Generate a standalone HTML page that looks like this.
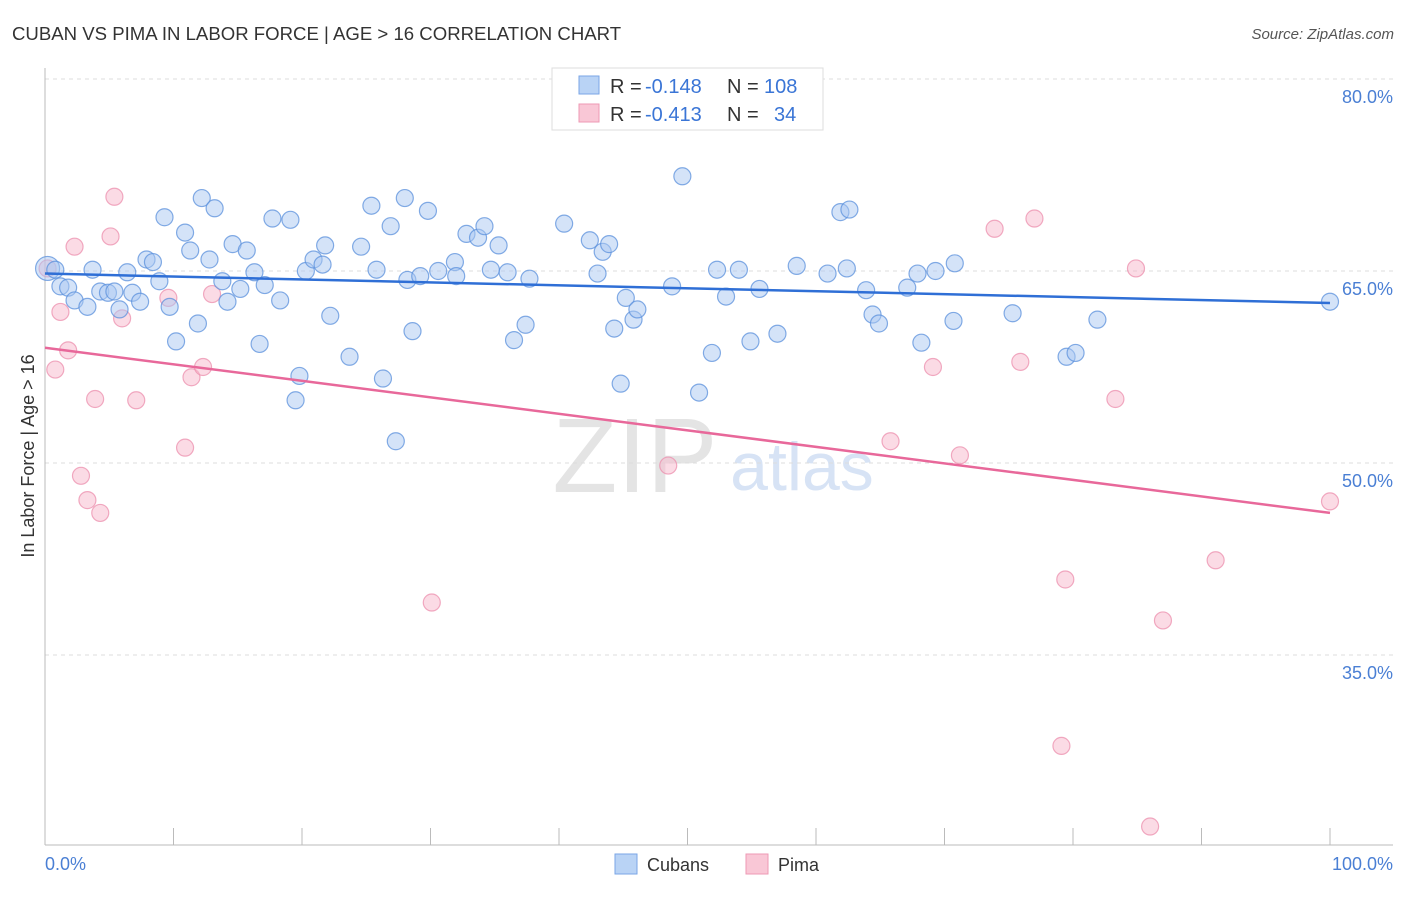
<!DOCTYPE html>
<html><head><meta charset="utf-8"><style>
body{margin:0;background:#fff;font-family:"Liberation Sans",sans-serif;}
svg text{font-family:"Liberation Sans",sans-serif;}
</style></head><body>
<svg id="chart" width="1406" height="892" viewBox="0 0 1406 892" xmlns="http://www.w3.org/2000/svg">
<text x="12" y="40" font-size="18.6" fill="#333">CUBAN VS PIMA IN LABOR FORCE | AGE &gt; 16 CORRELATION CHART</text>
<text x="1394" y="39" font-size="15" fill="#555" font-style="italic" text-anchor="end">Source: ZipAtlas.com</text>
<text x="635" y="492" font-size="106" fill="#e4e4e4" font-family="Liberation Serif" text-anchor="middle">ZIP</text>
<text x="802" y="490" font-size="68" fill="#d7e3f5" text-anchor="middle">atlas</text>
<g id="grid"></g>
<g id="axes"></g>
<g id="pts"></g>
<g id="lines"></g>
<text x="34" y="456" font-size="18" fill="#333" text-anchor="middle" transform="rotate(-90 34 456)">In Labor Force | Age &gt; 16</text>
<text x="45" y="870" font-size="18" fill="#4a7fd4">0.0%</text>
<text x="1393" y="870" font-size="18" fill="#4a7fd4" text-anchor="end">100.0%</text>
<g>
<rect x="552" y="68" width="271" height="62" fill="#fff" stroke="#ddd"/>
<rect x="579" y="76" width="20" height="18" fill="#b9d3f5" stroke="#7aa6e6"/>
<rect x="579" y="104" width="20" height="18" fill="#f9c7d6" stroke="#ee9ab4"/>
<text x="610" y="93" font-size="20" fill="#333">R =</text>
<text x="645" y="93" font-size="20" fill="#3a75d6">-0.148</text>
<text x="727" y="93" font-size="20" fill="#333">N =</text>
<text x="764" y="93" font-size="20" fill="#3a75d6">108</text>
<text x="610" y="121" font-size="20" fill="#333">R =</text>
<text x="645" y="121" font-size="20" fill="#3a75d6">-0.413</text>
<text x="727" y="121" font-size="20" fill="#333">N =</text>
<text x="774" y="121" font-size="20" fill="#3a75d6">34</text>
</g>
<g>
<rect x="615" y="854" width="22" height="20" fill="#b9d3f5" stroke="#7aa6e6"/>
<text x="647" y="871" font-size="18" fill="#333">Cubans</text>
<rect x="746" y="854" width="22" height="20" fill="#f9c7d6" stroke="#ee9ab4"/>
<text x="778" y="871" font-size="18" fill="#333">Pima</text>
</g>
</svg>
<script>
const yTicks=[80,65,50,35];
const yTickLabels=["80.0%","65.0%","50.0%","35.0%"];
const cubanX=[0.2,0.8,1.2,1.8,2.3,3.3,3.7,4.3,4.9,5.4,5.8,6.4,6.8,7.4,7.9,8.4,8.9,9.3,9.7,10.2,10.9,11.3,11.9,12.2,12.8,13.2,13.8,14.2,14.6,15.2,15.7,16.3,16.7,17.1,17.7,18.3,19.1,19.8,19.5,20.3,20.9,21.6,21.8,22.2,23.7,24.6,25.4,25.8,26.3,26.9,27.3,28.0,28.2,28.6,29.2,29.8,30.6,31.9,32.0,32.8,33.7,34.2,34.7,35.3,36.0,36.5,37.4,37.7,40.4,42.4,43.4,43.9,43.0,44.3,44.8,45.2,45.8,46.1,48.8,49.6,50.9,51.9,52.3,53.0,54.0,55.6,54.9,57.0,58.5,60.9,61.9,62.6,62.4,63.9,64.4,64.9,67.1,67.9,68.2,69.3,70.7,70.8,75.3,79.5,80.2,81.9,100];
const cubanY=[65.2,65.1,63.8,63.7,62.7,62.2,65.1,63.4,63.3,63.4,62.0,64.9,63.3,62.6,65.9,65.7,64.2,69.2,62.2,59.5,68.0,66.6,60.9,70.7,65.9,69.9,64.2,62.6,67.1,63.6,66.6,64.9,59.3,63.9,69.1,62.7,69.0,56.8,54.9,65.0,65.9,65.5,67.0,61.5,58.3,66.9,70.1,65.1,56.6,68.5,51.7,70.7,64.3,60.3,64.6,69.7,65.0,65.7,64.6,67.9,67.6,68.5,65.1,67.0,64.9,59.6,60.8,64.4,68.7,67.4,66.5,67.1,64.8,60.5,56.2,62.9,61.2,62.0,63.8,72.4,55.5,58.6,65.1,63.0,65.1,63.6,59.5,60.1,65.4,64.8,69.6,69.8,65.2,63.5,61.6,60.9,63.7,64.8,59.4,65.0,61.1,65.6,61.7,58.3,58.6,61.2,62.6];
const pimaX=[0.2,0.8,1.2,1.8,2.3,2.8,3.3,3.9,4.3,5.1,5.4,6.0,7.1,9.6,10.9,11.4,12.3,13.0,30.1,48.5,65.8,71.2,73.9,75.9,69.1,77.0,79.4,79.1,83.3,84.9,86.0,87.0,91.1,100];
const pimaY=[65.2,57.3,61.8,58.8,66.9,49.0,47.1,55.0,46.1,67.7,70.8,61.3,54.9,62.9,51.2,56.7,57.5,63.2,39.1,49.8,51.7,50.6,68.3,57.9,57.5,69.1,40.9,27.9,55.0,65.2,21.6,37.7,42.4,47.0];
const cubanTrend=[64.8,62.5];
const pimaTrend=[59.0,46.1];
const NS="http://www.w3.org/2000/svg";
const X=v=>45+v*12.85;
const Y=v=>79+(80-v)*12.8;
function mk(tag,attrs,parent){const e=document.createElementNS(NS,tag);for(const k in attrs)e.setAttribute(k,attrs[k]);parent.appendChild(e);return e;}
const grid=document.getElementById('grid'),axes=document.getElementById('axes'),pts=document.getElementById('pts'),lines=document.getElementById('lines');
yTicks.forEach((t,i)=>{
 const l=mk('line',{x1:45,x2:1393,y1:Y(t),y2:Y(t),stroke:'#ddd','stroke-dasharray':'4 4'},grid);
 
 
 const tx=mk('text',{x:1393,y:Y(t)+24,'font-size':18,fill:'#4a7fd4','text-anchor':'end'},grid);
 tx.textContent=yTickLabels[i];
 
 
});
const ya=mk('line',{x1:45,x2:45,y1:68,y2:845,stroke:'#bbb'},axes);


const xa=mk('line',{x1:45,x2:1393,y1:845,y2:845,stroke:'#bbb'},axes);


for(let i=0;i<=10;i++){const t=mk('line',{x1:X(i*10),x2:X(i*10),y1:828,y2:845,stroke:'#bbb'},axes);
 
 }
function dots(xs,ys,fill,stroke,name){xs.forEach((x,i)=>{
 const c=mk('circle',{cx:X(x),cy:Y(ys[i]),r:(i===0&&name==='cuban-point')?12:8.5,fill:fill,'fill-opacity':0.5,stroke:stroke,'stroke-opacity':0.75,'stroke-width':1.2},pts);
 
 });}
dots(pimaX,pimaY,'#f7b8cc','#ec8fae','pima-point');
dots(cubanX,cubanY,'#a9c8f2','#5b90dc','cuban-point');
const bl=mk('line',{x1:X(0),x2:X(100),y1:Y(cubanTrend[0]),y2:Y(cubanTrend[1]),stroke:'#2f6fd6','stroke-width':2.5},lines);


const pl=mk('line',{x1:X(0),x2:X(100),y1:Y(pimaTrend[0]),y2:Y(pimaTrend[1]),stroke:'#e8689a','stroke-width':2.5},lines);


</script>
</body></html>
